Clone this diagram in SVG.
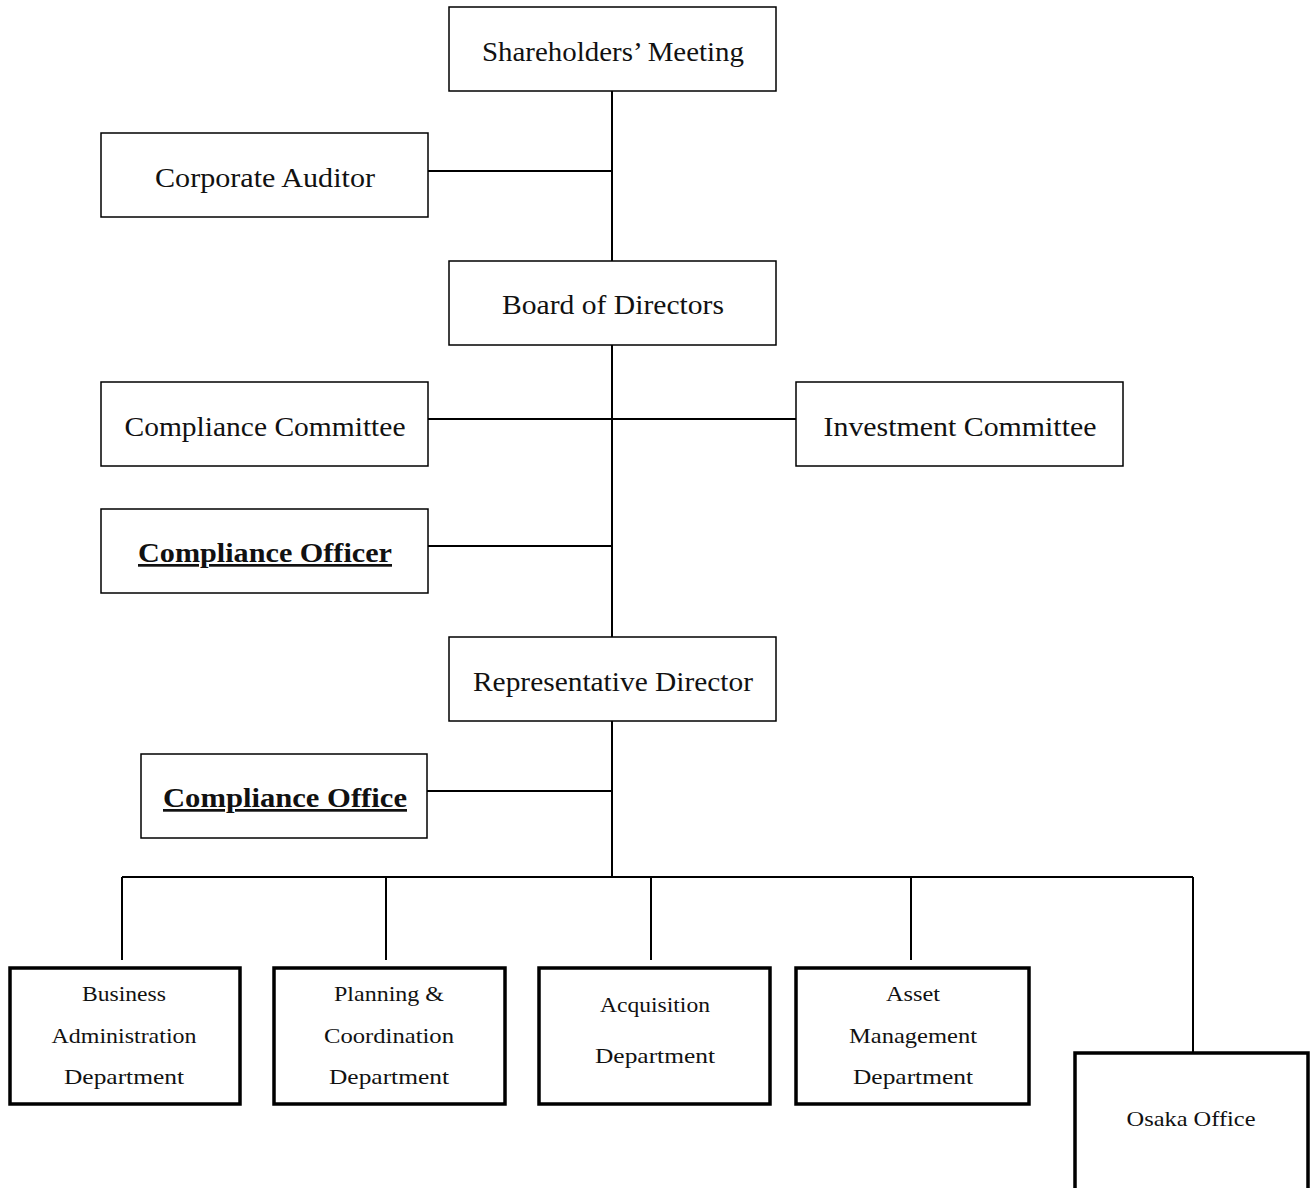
<svg xmlns="http://www.w3.org/2000/svg" width="1316" height="1188" viewBox="0 0 1316 1188">
<style>
.box{fill:#fff;stroke:#000;stroke-width:1.5}
.tbox{fill:#fff;stroke:#000;stroke-width:3.5}
.t{font-family:"Liberation Serif",serif;font-size:27px;fill:#111;text-anchor:middle}
.b{font-family:"Liberation Serif",serif;font-size:27px;font-weight:bold;fill:#111;text-anchor:middle;text-decoration:underline}
.s{font-family:"Liberation Serif",serif;font-size:22px;fill:#111;text-anchor:middle}
.c{stroke:#000;stroke-width:2;fill:none}
</style>
<rect width="1316" height="1188" fill="#fff"/>
<g id="connectors">
<path class="c" d="M612 91V261M428 171H612M612 345V637M428 419H796M428 546H612M612 721V877M427 791H612M122 877H1193M122 877V960M386 877V960M651 877V960M911 877V960M1193 877V1052"/>
</g>
<g id="shareholders"><rect class="box" x="449" y="7" width="327" height="84"/><text class="t" x="613" y="61" textLength="262" lengthAdjust="spacingAndGlyphs">Shareholders’ Meeting</text></g>
<g id="auditor"><rect class="box" x="101" y="133" width="327" height="84"/><text class="t" x="265" y="187" textLength="220" lengthAdjust="spacingAndGlyphs">Corporate Auditor</text></g>
<g id="board"><rect class="box" x="449" y="261" width="327" height="84"/><text class="t" x="613" y="314" textLength="222" lengthAdjust="spacingAndGlyphs">Board of Directors</text></g>
<g id="compcommittee"><rect class="box" x="101" y="382" width="327" height="84"/><text class="t" x="265" y="436" textLength="281" lengthAdjust="spacingAndGlyphs">Compliance Committee</text></g>
<g id="invcommittee"><rect class="box" x="796" y="382" width="327" height="84"/><text class="t" x="960" y="436" textLength="273" lengthAdjust="spacingAndGlyphs">Investment Committee</text></g>
<g id="compofficer"><rect class="box" x="101" y="509" width="327" height="84"/><text class="b" x="265" y="562" textLength="254" lengthAdjust="spacingAndGlyphs">Compliance Officer</text></g>
<g id="repdirector"><rect class="box" x="449" y="637" width="327" height="84"/><text class="t" x="613" y="691" textLength="280" lengthAdjust="spacingAndGlyphs">Representative Director</text></g>
<g id="compoffice"><rect class="box" x="141" y="754" width="286" height="84"/><text class="b" x="285" y="807" textLength="244" lengthAdjust="spacingAndGlyphs">Compliance Office</text></g>
<g id="busadmin"><rect class="tbox" x="10" y="968" width="230" height="136"/><text class="s" x="124" y="1001" textLength="84" lengthAdjust="spacingAndGlyphs">Business</text><text class="s" x="124" y="1043" textLength="145" lengthAdjust="spacingAndGlyphs">Administration</text><text class="s" x="124" y="1084" textLength="120" lengthAdjust="spacingAndGlyphs">Department</text></g>
<g id="planning"><rect class="tbox" x="274" y="968" width="231" height="136"/><text class="s" x="389" y="1001" textLength="110" lengthAdjust="spacingAndGlyphs">Planning &amp;</text><text class="s" x="389" y="1043" textLength="130" lengthAdjust="spacingAndGlyphs">Coordination</text><text class="s" x="389" y="1084" textLength="120" lengthAdjust="spacingAndGlyphs">Department</text></g>
<g id="acquisition"><rect class="tbox" x="539" y="968" width="231" height="136"/><text class="s" x="655" y="1012" textLength="110" lengthAdjust="spacingAndGlyphs">Acquisition</text><text class="s" x="655" y="1063" textLength="120" lengthAdjust="spacingAndGlyphs">Department</text></g>
<g id="asset"><rect class="tbox" x="796" y="968" width="233" height="136"/><text class="s" x="913" y="1001" textLength="54" lengthAdjust="spacingAndGlyphs">Asset</text><text class="s" x="913" y="1043" textLength="128" lengthAdjust="spacingAndGlyphs">Management</text><text class="s" x="913" y="1084" textLength="120" lengthAdjust="spacingAndGlyphs">Department</text></g>
<g id="osaka"><rect class="tbox" x="1075" y="1053" width="233" height="150"/><text class="s" x="1191" y="1126" textLength="129" lengthAdjust="spacingAndGlyphs">Osaka Office</text></g>
</svg>
